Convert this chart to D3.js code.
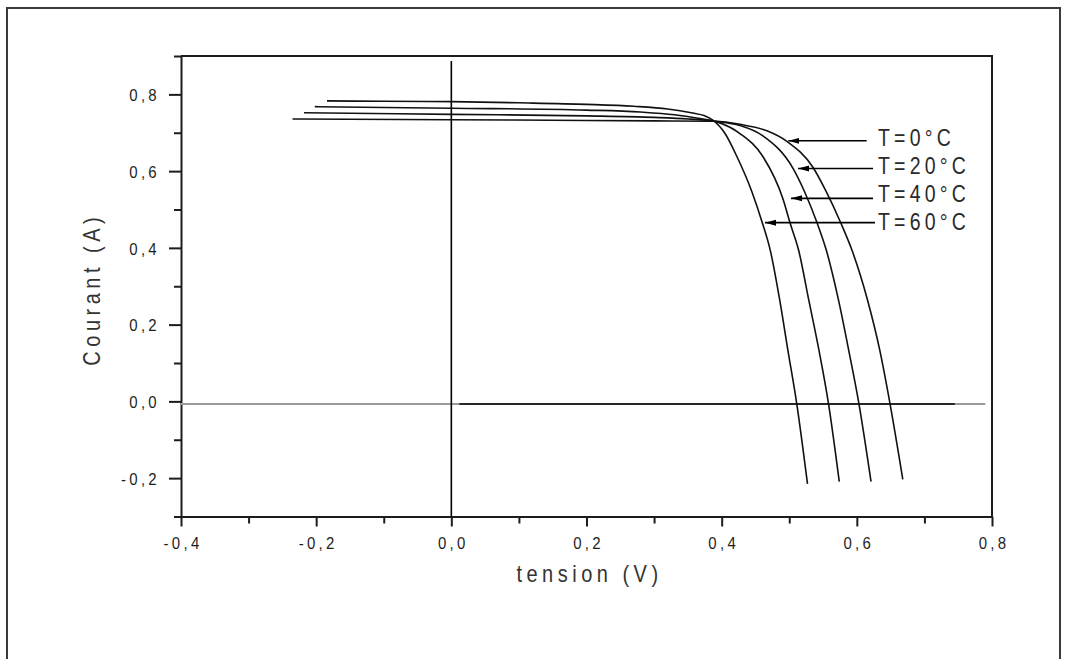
<!DOCTYPE html>
<html>
<head>
<meta charset="utf-8">
<script src="https://cdn.jsdelivr.net/npm/d3@7"></script>
<style>
  html, body { margin: 0; padding: 0; background: #ffffff; }
  svg { display: block; }
</style>
</head>
<body>
<svg id="chart" width="1068" height="659"></svg>
<script>
// Current–voltage characteristics of a solar cell for four temperatures

// Series labels
const seriesLabels = ["T=0°C", "T=20°C", "T=40°C", "T=60°C"];

// Voltage (V) and current (A) samples, one pair of arrays per temperature
const voltage_T0  = [-0.235, 0.000, 0.200, 0.300, 0.390, 0.427, 0.467, 0.497, 0.535, 0.554, 0.576, 0.593, 0.616, 0.634, 0.649, 0.668];
const current_T0  = [ 0.736, 0.734, 0.732, 0.731, 0.730, 0.722, 0.705, 0.677, 0.610, 0.549, 0.466, 0.393, 0.263, 0.133, -0.005, -0.203];

const voltage_T20 = [-0.218, 0.000, 0.200, 0.300, 0.350, 0.390, 0.427, 0.461, 0.506, 0.523, 0.541, 0.555, 0.573, 0.588, 0.603, 0.621];
const current_T20 = [ 0.752, 0.748, 0.744, 0.740, 0.736, 0.730, 0.719, 0.692, 0.606, 0.545, 0.466, 0.393, 0.263, 0.133, -0.005, -0.209];

const voltage_T40 = [-0.202, 0.000, 0.200, 0.280, 0.330, 0.365, 0.392, 0.427, 0.461, 0.491, 0.501, 0.514, 0.529, 0.544, 0.558, 0.574];
const current_T40 = [ 0.768, 0.764, 0.759, 0.754, 0.747, 0.738, 0.729, 0.698, 0.638, 0.526, 0.466, 0.393, 0.263, 0.133, -0.005, -0.209];

const voltage_T60 = [-0.184, -0.100, 0.000, 0.100, 0.200, 0.270, 0.320, 0.355, 0.375, 0.387, 0.405, 0.422, 0.445, 0.460, 0.472, 0.486, 0.498, 0.511, 0.527];
const current_T60 = [ 0.783, 0.782, 0.781, 0.778, 0.774, 0.769, 0.762, 0.752, 0.744, 0.733, 0.698, 0.640, 0.545, 0.466, 0.393, 0.263, 0.133, -0.005, -0.215];

// Reference lines: zero-current line and zero-voltage line
const zeroCurrentGrayV  = [-0.400, 0.790];
const zeroCurrentBlackV = [ 0.012, 0.745];
const zeroCurrentLevel  = -0.007;
const zeroVoltageI      = [-0.300, 0.887];

// Label arrows: tip on the curve (V, A) and tail voltage
const arrowTipV  = [0.4986, 0.5130, 0.5026, 0.4641];
const arrowTipI  = [0.679, 0.607, 0.529, 0.4657];
const arrowTailV = [0.6146, 0.6240, 0.6240, 0.6269];

// Axis ticks
const xMajorTicks = [-0.4, -0.2, 0.0, 0.2, 0.4, 0.6, 0.8];
const xTickLabels = ["-0,4", "-0,2", "0,0", "0,2", "0,4", "0,6", "0,8"];
const xMinorTicks = [-0.3, -0.1, 0.1, 0.3, 0.5, 0.7];
const yMajorTicks = [-0.2, 0.0, 0.2, 0.4, 0.6, 0.8];
const yTickLabels = ["-0,2", "0,0", "0,2", "0,4", "0,6", "0,8"];
const yMinorTicks = [-0.3, -0.1, 0.1, 0.3, 0.5, 0.7, 0.9];

const xTitle = "tension (V)";
const yTitle = "Courant (A)";

// ---------------------------------------------------------------
const svg = d3.select("#chart");
const ink = "#1c1c1c";
const font = "'Liberation Sans', Arial, sans-serif";

const x = d3.scaleLinear().domain([-0.4, 0.8]).range([181, 992]);
const y = d3.scaleLinear().domain([-0.3, 0.9]).range([516.5, 56]);

// Outer page frame
svg.append("path")
  .attr("d", "M7,660 L7,8 L1060,8 L1060,660")
  .attr("fill", "none")
  .attr("stroke", "#3a3a3a")
  .attr("stroke-width", 2);

// Plot frame (top and right)
svg.append("path")
  .attr("d", `M${x(-0.4)},${y(0.9)} L${x(0.8)},${y(0.9)} L${x(0.8)},${y(-0.3)}`)
  .attr("fill", "none")
  .attr("stroke", ink)
  .attr("stroke-width", 2);

// Bottom axis
const gx = svg.append("g").attr("transform", `translate(0,${y(-0.3)})`);
gx.call(d3.axisBottom(x).tickValues(xMajorTicks).tickSize(10).tickSizeOuter(0)
  .tickFormat((d, i) => xTickLabels[i]));
svg.append("g").attr("transform", `translate(0,${y(-0.3)})`)
  .call(d3.axisBottom(x).tickValues(xMinorTicks).tickSize(7).tickSizeOuter(0).tickFormat(""))
  .select(".domain").remove();

// Left axis
const gy = svg.append("g").attr("transform", `translate(${x(-0.4)},0)`);
gy.call(d3.axisLeft(y).tickValues(yMajorTicks).tickSize(12).tickSizeOuter(0)
  .tickFormat((d, i) => yTickLabels[i]));
svg.append("g").attr("transform", `translate(${x(-0.4)},0)`)
  .call(d3.axisLeft(y).tickValues(yMinorTicks).tickSize(7).tickSizeOuter(0).tickFormat(""))
  .select(".domain").remove();

svg.selectAll(".domain, .tick line")
  .attr("stroke", ink)
  .attr("stroke-width", 2);

// Tick labels: slightly tall, letter-spaced glyphs
const tickStretch = 1.15;
gx.selectAll(".tick text")
  .attr("y", null).attr("dy", null)
  .attr("transform", `translate(1.5,32.5) scale(1,${tickStretch})`);
gy.selectAll(".tick text")
  .attr("x", null).attr("dy", null)
  .attr("text-anchor", "end")
  .attr("transform", `translate(-21,6.2) scale(1,${tickStretch})`);
svg.selectAll(".tick text")
  .attr("fill", "#1e1e1e")
  .style("font-family", font)
  .style("font-size", "15px")
  .style("letter-spacing", "3.3px");

// Axis titles
const titleStretch = 1.17;
svg.append("text")
  .attr("transform", `translate(${(x(-0.4) + x(0.8)) / 2 + 3},582) scale(1,${titleStretch})`)
  .attr("text-anchor", "middle")
  .attr("fill", "#333")
  .style("font-family", font)
  .style("font-size", "20px")
  .style("letter-spacing", "4.5px")
  .text(xTitle);

svg.append("text")
  .attr("transform", `translate(100,${(y(-0.3) + y(0.9)) / 2 + 3}) rotate(-90) scale(1,${titleStretch})`)
  .attr("text-anchor", "middle")
  .attr("fill", "#333")
  .style("font-family", font)
  .style("font-size", "20px")
  .style("letter-spacing", "4.5px")
  .text(yTitle);

// Reference lines
const refLine = d3.line().x(d => x(d[0])).y(d => y(d[1]));
svg.append("path")
  .attr("d", refLine(zeroCurrentGrayV.map(v => [v, zeroCurrentLevel])))
  .attr("stroke", "#9a9a9a").attr("stroke-width", 2).attr("fill", "none");
svg.append("path")
  .attr("d", refLine(zeroCurrentBlackV.map(v => [v, zeroCurrentLevel])))
  .attr("stroke", "#000").attr("stroke-width", 1.6).attr("fill", "none");
svg.append("path")
  .attr("d", refLine(zeroVoltageI.map(i => [0, i])))
  .attr("stroke", "#000").attr("stroke-width", 1.6).attr("fill", "none");

// I–V curves
const series = [
  { v: voltage_T0,  i: current_T0 },
  { v: voltage_T20, i: current_T20 },
  { v: voltage_T40, i: current_T40 },
  { v: voltage_T60, i: current_T60 }
];
const curve = d3.line()
  .x(d => x(d[0]))
  .y(d => y(d[1]))
  .curve(d3.curveMonotoneX);

svg.append("g").selectAll("path")
  .data(series)
  .join("path")
  .attr("d", s => curve(s.v.map((v, k) => [v, s.i[k]])))
  .attr("fill", "none")
  .attr("stroke", "#111")
  .attr("stroke-width", 1.6);

// Arrow markers
svg.append("defs").append("marker")
  .attr("id", "head")
  .attr("markerUnits", "userSpaceOnUse")
  .attr("viewBox", "0 -4 12 8")
  .attr("refX", 11).attr("refY", 0)
  .attr("markerWidth", 12).attr("markerHeight", 8)
  .attr("orient", "auto")
  .append("path")
  .attr("d", "M0,-3 L11,0 L0,3 Z")
  .attr("fill", "#000");

// Temperature labels with arrows pointing to their curves
const labelBaselineShift = [5.5, 6, 4, 7.5];
const labels = svg.append("g");
seriesLabels.forEach((lab, k) => {
  const ay = y(arrowTipI[k]);
  labels.append("line")
    .attr("x1", x(arrowTailV[k])).attr("y1", ay)
    .attr("x2", x(arrowTipV[k])).attr("y2", ay)
    .attr("stroke", "#000").attr("stroke-width", 1.6)
    .attr("marker-end", "url(#head)");
  labels.append("text")
    .attr("transform", `translate(878,${ay + labelBaselineShift[k]}) scale(1,1.22)`)
    .attr("fill", "#2a2a2a")
    .style("font-family", font)
    .style("font-size", "19.5px")
    .style("letter-spacing", "4.2px")
    .text(lab);
});
</script>
</body>
</html>
